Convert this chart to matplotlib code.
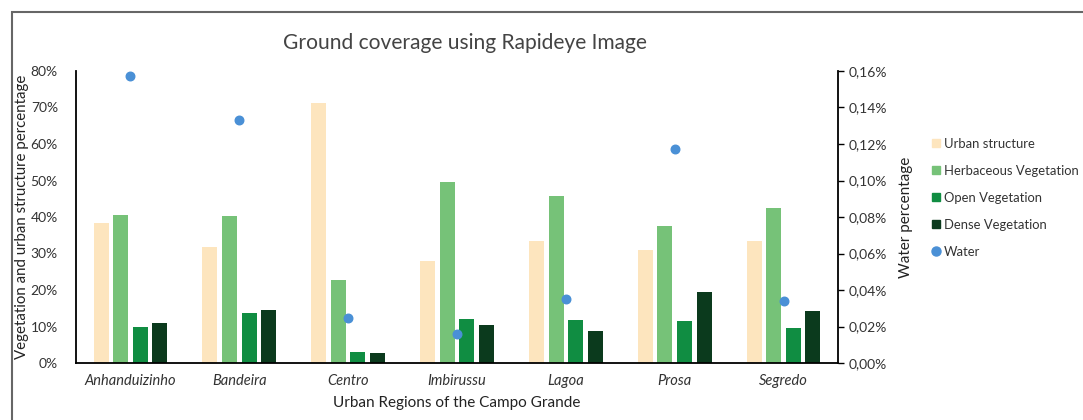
import numpy as np
import matplotlib
matplotlib.use("Agg")
import matplotlib.pyplot as plt
from matplotlib.patches import Rectangle
from matplotlib.ticker import FuncFormatter
from matplotlib.lines import Line2D

regions = ["Anhanduizinho", "Bandeira", "Centro", "Imbirussu", "Lagoa", "Prosa", "Segredo"]
urban = [38.4, 31.7, 71.3, 27.9, 33.3, 31.0, 33.5]
herbaceous = [40.6, 40.2, 22.7, 49.5, 45.8, 37.5, 42.5]
open_veg = [9.9, 13.7, 3.1, 12.0, 11.8, 11.6, 9.6]
dense = [10.9, 14.4, 2.7, 10.5, 8.8, 19.5, 14.3]
water = [0.157, 0.133, 0.0245, 0.0157, 0.035, 0.117, 0.034]

series = [
    ("Urban structure", urban, "#FDE5BE"),
    ("Herbaceous Vegetation", herbaceous, "#76C278"),
    ("Open Vegetation", open_veg, "#108D42"),
    ("Dense Vegetation", dense, "#0B3A1D"),
]
water_color = "#4A90D6"

plt.rcParams["font.family"] = ["Lato", "DejaVu Sans"]
text_color = "#333333"

fig = plt.figure(figsize=(10.83, 4.20), dpi=100)
ax = fig.add_axes([76 / 1083, 1 - 363 / 420, (838 - 76) / 1083, (363 - 71) / 420])

x = np.arange(len(regions))
step = 0.18
width = 0.138
for i, (name, vals, col) in enumerate(series):
    ax.bar(x + (i - 1.5) * step, vals, width=width, color=col, label=name, zorder=2)

ax.set_ylim(0, 80)
ax.set_xlim(-0.5, len(regions) - 0.5)
ax.set_yticks(np.arange(0, 81, 10))
ax.yaxis.set_major_formatter(FuncFormatter(lambda v, p: f"{int(v)}%"))
ax.set_xticks(x)
ax.set_xticklabels(regions, fontstyle="italic", fontsize=10.5, color=text_color)
ax.tick_params(axis="x", length=0, pad=8)
ax.tick_params(axis="y", length=0, labelsize=10, labelcolor=text_color, pad=13)
ax.spines["top"].set_visible(False)
ax.spines["right"].set_visible(False)
ax.spines["left"].set_linewidth(1.3)
ax.spines["bottom"].set_linewidth(1.3)
ax.set_ylabel("Vegetation and urban structure percentage", fontsize=10.8, color="#222222")
ax.yaxis.set_label_coords(-(76 - 29) / 762, 0.5)
ax.set_xlabel("Urban Regions of the Campo Grande", fontsize=11, color="#222222", labelpad=6)

ax2 = ax.twinx()
ax2.scatter(x, water, s=38, color=water_color, zorder=3, label="Water")
ax2.set_ylim(0, 0.16)
ax2.set_yticks(np.arange(0, 0.161, 0.02))
ax2.yaxis.set_major_formatter(FuncFormatter(lambda v, p: f"{v:.2f}%".replace(".", ",")))
ax2.tick_params(axis="y", length=4, width=1, labelsize=10, labelcolor=text_color, pad=4)
for s in ("top", "left", "bottom"):
    ax2.spines[s].set_visible(False)
ax2.spines["right"].set_linewidth(1.3)
ax2.set_ylabel("Water percentage", fontsize=11, color="#222222", labelpad=8)

fig.text(465 / 1083, 1 - 43 / 420, "Ground coverage using Rapideye Image",
         ha="center", va="center", fontsize=15.1, color="#444444")

handles = [Line2D([0], [0], marker="s", linestyle="none", markersize=6,
                  markerfacecolor=col, markeredgecolor=col) for _, _, col in series]
handles.append(Line2D([0], [0], marker="o", linestyle="none", markersize=6.5,
                      markerfacecolor=water_color, markeredgecolor=water_color))
labels = [s[0] for s in series] + ["Water"]
fig.legend(handles, labels, loc="upper left", bbox_to_anchor=(930 / 1083, 1 - 138 / 420),
           frameon=False, fontsize=9.4, handletextpad=0.15, labelspacing=1.15,
           handlelength=0.9, borderaxespad=0, borderpad=0, labelcolor=text_color)

fig.patches.append(Rectangle((12 / 1083, -0.1), 1.2, (420 - 12) / 420 + 0.1,
                             transform=fig.transFigure, fill=False,
                             edgecolor="#666666", linewidth=1.5))

fig.savefig("out.png", dpi=100)
